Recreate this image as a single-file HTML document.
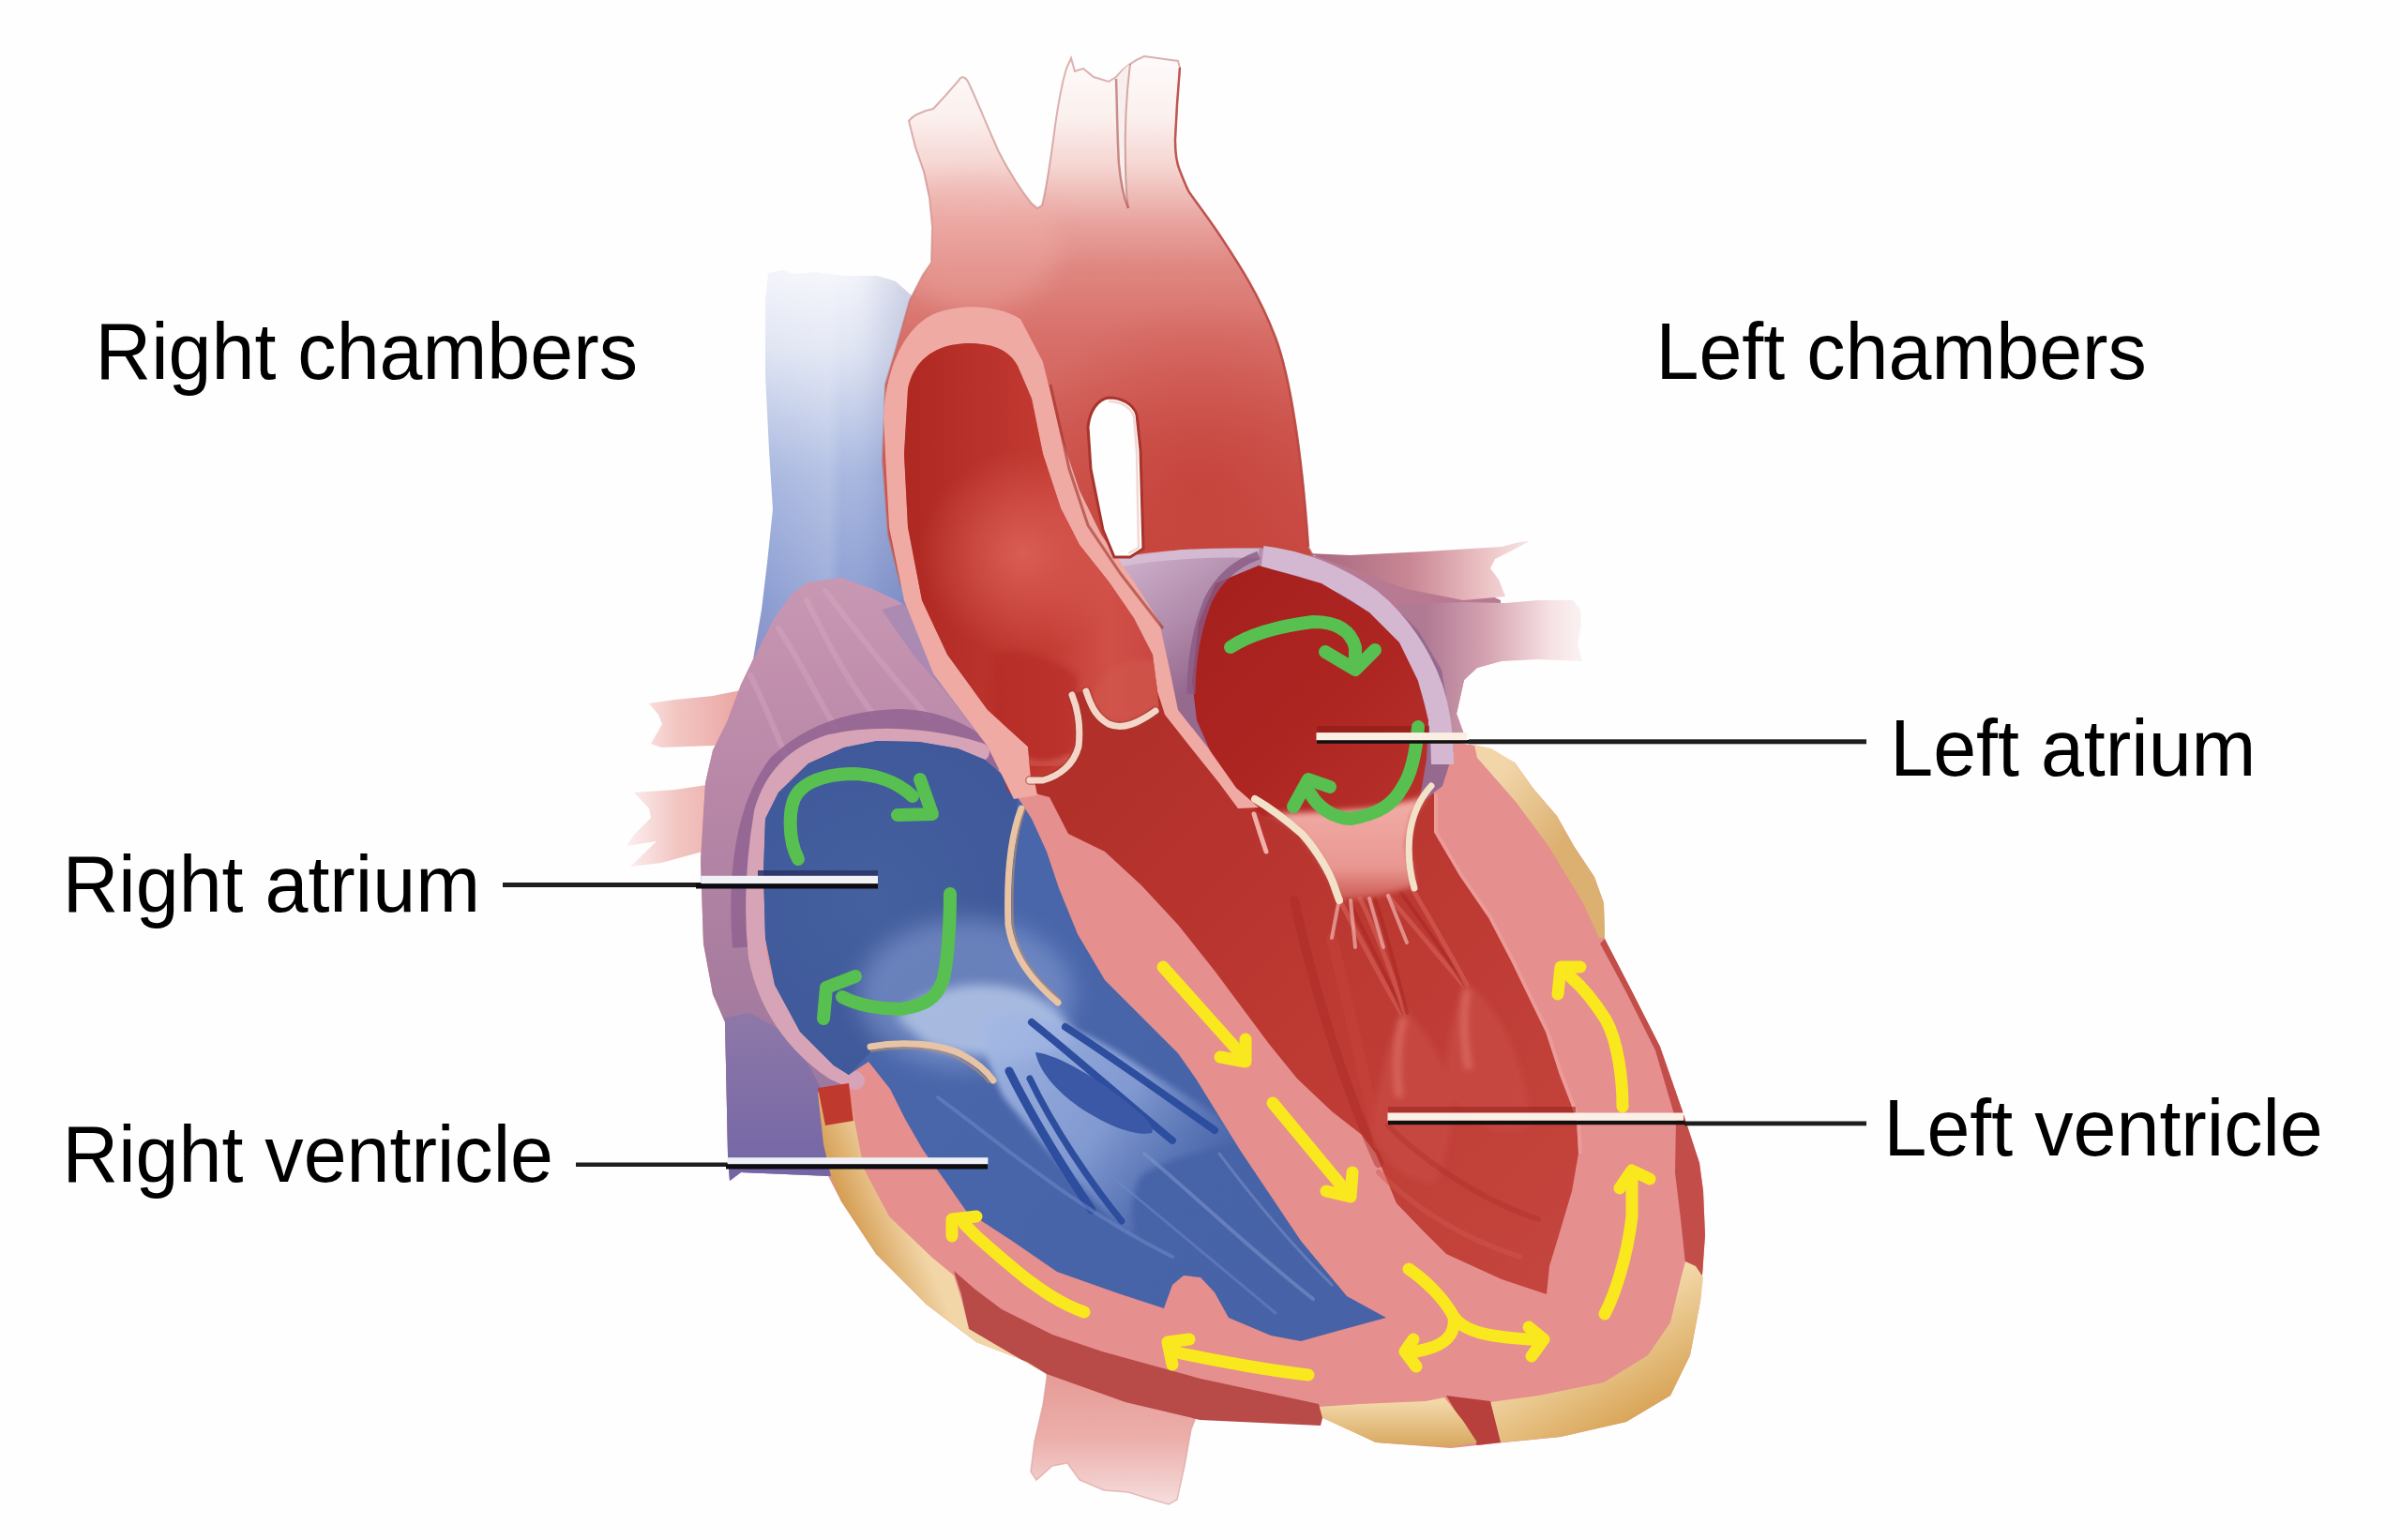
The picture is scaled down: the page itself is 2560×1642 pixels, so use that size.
<!DOCTYPE html>
<html><head><meta charset="utf-8"><title>Heart chambers</title>
<style>
html,body{margin:0;padding:0;background:#fefefe;}
svg{display:block;}
text{font-family:"Liberation Sans",sans-serif;font-size:85px;fill:#000;}
</style></head>
<body>
<svg width="2560" height="1642" viewBox="0 0 2560 1642">
<defs>
<linearGradient id="gSVC" x1="0" y1="290" x2="0" y2="720" gradientUnits="userSpaceOnUse">
<stop offset="0" stop-color="#f4f5fb"/><stop offset="0.2" stop-color="#dfe4f3"/><stop offset="0.5" stop-color="#a9b8e0"/><stop offset="0.8" stop-color="#8e9fd3"/><stop offset="1" stop-color="#8a8fc4"/>
</linearGradient>
<linearGradient id="gSVCh" x1="816" y1="0" x2="965" y2="0" gradientUnits="userSpaceOnUse">
<stop offset="0" stop-color="#ffffff" stop-opacity="0"/><stop offset="0.45" stop-color="#ffffff" stop-opacity="0.15"/><stop offset="0.55" stop-color="#ffffff" stop-opacity="0"/><stop offset="0.8" stop-color="#3a4a90" stop-opacity="0.08"/><stop offset="1" stop-color="#3a4a90" stop-opacity="0.18"/>
</linearGradient>
<linearGradient id="gArch" x1="0" y1="60" x2="0" y2="600" gradientUnits="userSpaceOnUse">
<stop offset="0" stop-color="#fefbfa"/><stop offset="0.12" stop-color="#fbf0ee"/><stop offset="0.22" stop-color="#f5d4d0"/><stop offset="0.33" stop-color="#e8a29d"/><stop offset="0.42" stop-color="#df8680"/><stop offset="0.55" stop-color="#d8706a"/><stop offset="0.75" stop-color="#d05c55"/><stop offset="1" stop-color="#c94c44"/>
</linearGradient>
<radialGradient id="gArchShade" cx="1280" cy="520" r="200" gradientUnits="userSpaceOnUse">
<stop offset="0" stop-color="#c0362e" stop-opacity="0.55"/><stop offset="1" stop-color="#c0362e" stop-opacity="0"/>
</radialGradient>
<linearGradient id="gDesc" x1="0" y1="1460" x2="0" y2="1605" gradientUnits="userSpaceOnUse">
<stop offset="0" stop-color="#e69a96"/><stop offset="0.5" stop-color="#ecaeaa"/><stop offset="0.85" stop-color="#f2cfcd"/><stop offset="1" stop-color="#f6e0e0"/>
</linearGradient>
<linearGradient id="gPV1" x1="1400" y1="0" x2="1631" y2="0" gradientUnits="userSpaceOnUse">
<stop offset="0" stop-color="#a8687f"/><stop offset="0.45" stop-color="#c98795"/><stop offset="0.8" stop-color="#edc4c6"/><stop offset="1" stop-color="#f6e6e6"/>
</linearGradient>
<linearGradient id="gPV2" x1="1520" y1="0" x2="1687" y2="0" gradientUnits="userSpaceOnUse">
<stop offset="0" stop-color="#b07a94"/><stop offset="0.4" stop-color="#d6a4b2"/><stop offset="0.8" stop-color="#f6e2e4"/><stop offset="1" stop-color="#fbf2f2"/>
</linearGradient>
<linearGradient id="gPVL" x1="800" y1="0" x2="670" y2="0" gradientUnits="userSpaceOnUse">
<stop offset="0" stop-color="#e9a19f"/><stop offset="0.6" stop-color="#f2c6c2"/><stop offset="1" stop-color="#fbeeee"/>
</linearGradient>
<linearGradient id="gRAw" x1="0" y1="620" x2="0" y2="1250" gradientUnits="userSpaceOnUse">
<stop offset="0" stop-color="#c897b2"/><stop offset="0.3" stop-color="#bb89a9"/><stop offset="0.65" stop-color="#a97d9f"/><stop offset="1" stop-color="#9477a2"/>
</linearGradient>
<linearGradient id="gIVC" x1="0" y1="1080" x2="0" y2="1250" gradientUnits="userSpaceOnUse">
<stop offset="0" stop-color="#8e78a8"/><stop offset="1" stop-color="#7466a6"/>
</linearGradient>
<radialGradient id="gRA" cx="930" cy="960" r="200" gradientUnits="userSpaceOnUse">
<stop offset="0" stop-color="#45609f"/><stop offset="1" stop-color="#3e5899"/>
</radialGradient>
<radialGradient id="gFan" cx="1010" cy="1100" r="130" gradientUnits="userSpaceOnUse">
<stop offset="0" stop-color="#c4d2ee" stop-opacity="0.95"/><stop offset="0.5" stop-color="#9fb3e0" stop-opacity="0.7"/><stop offset="1" stop-color="#7f97d0" stop-opacity="0"/>
</radialGradient>
<linearGradient id="gRV" x1="1000" y1="1100" x2="1450" y2="1400" gradientUnits="userSpaceOnUse">
<stop offset="0" stop-color="#4966aa"/><stop offset="1" stop-color="#4762a6"/>
</linearGradient>
<linearGradient id="gLV" x1="1150" y1="850" x2="1650" y2="1350" gradientUnits="userSpaceOnUse">
<stop offset="0" stop-color="#b2302a"/><stop offset="0.5" stop-color="#bd3a33"/><stop offset="1" stop-color="#c4453d"/>
</linearGradient>
<linearGradient id="gAo" x1="960" y1="0" x2="1240" y2="0" gradientUnits="userSpaceOnUse">
<stop offset="0" stop-color="#ae2822"/><stop offset="0.55" stop-color="#c23a32"/><stop offset="0.8" stop-color="#d05048"/><stop offset="1" stop-color="#c84640"/>
</linearGradient>
<radialGradient id="gAoHi" cx="1090" cy="590" r="110" gradientUnits="userSpaceOnUse">
<stop offset="0" stop-color="#e26a60" stop-opacity="0.75"/><stop offset="1" stop-color="#e26a60" stop-opacity="0"/>
</radialGradient>
<linearGradient id="gLA" x1="1280" y1="600" x2="1520" y2="850" gradientUnits="userSpaceOnUse">
<stop offset="0" stop-color="#a41f1d"/><stop offset="0.6" stop-color="#ae2622"/><stop offset="1" stop-color="#b8302a"/>
</linearGradient>
<linearGradient id="gLAw" x1="1200" y1="590" x2="1290" y2="720" gradientUnits="userSpaceOnUse">
<stop offset="0" stop-color="#cdb0cc"/><stop offset="0.6" stop-color="#b08aaa"/><stop offset="1" stop-color="#96698e"/>
</linearGradient>
<linearGradient id="gFat1" x1="1600" y1="820" x2="1680" y2="880" gradientUnits="userSpaceOnUse">
<stop offset="0" stop-color="#f2d6aa"/><stop offset="1" stop-color="#dcb070"/>
</linearGradient>
<linearGradient id="gFat2" x1="1700" y1="1400" x2="1760" y2="1500" gradientUnits="userSpaceOnUse">
<stop offset="0" stop-color="#f4dcae"/><stop offset="1" stop-color="#d9a65a"/>
</linearGradient>
<linearGradient id="gFat3" x1="0" y1="1495" x2="0" y2="1543" gradientUnits="userSpaceOnUse">
<stop offset="0" stop-color="#f2d8a8"/><stop offset="1" stop-color="#d7a75e"/>
</linearGradient>
<linearGradient id="gFat4" x1="905" y1="1310" x2="965" y2="1285" gradientUnits="userSpaceOnUse">
<stop offset="0" stop-color="#d39a4e"/><stop offset="1" stop-color="#f2d6a8"/>
</linearGradient>
<linearGradient id="gMit" x1="0" y1="855" x2="0" y2="975" gradientUnits="userSpaceOnUse">
<stop offset="0" stop-color="#f2aca6"/><stop offset="0.6" stop-color="#e89690"/><stop offset="1" stop-color="#d8706a" stop-opacity="0.3"/>
</linearGradient>
<clipPath id="clipArch"><path d="M969,129 C973,123 985,118 995,116 L1008,102 L1022,86 C1025,80 1030,81 1034,91 C1042,108 1055,140 1065,162 C1075,182 1090,205 1100,217 L1106,222 L1111,219 C1116,200 1120,170 1123,149 C1126,125 1132,90 1137,73 L1142,62 L1146,76 L1155,73 L1166,82 L1182,87 L1190,82 C1196,75 1205,66 1220,60 L1256,65 L1258,72 C1256,95 1254,125 1253,149 C1253,165 1255,175 1258,182 C1262,192 1265,200 1268,205 C1275,215 1290,235 1300,250 C1320,280 1343,315 1360,360 C1375,400 1388,480 1395,583 L1400,592 L1400,760 L1060,800 L1026,743 L987,677 L960,623 L947,570 L941,490 L944,410 L955,373 L970,320 L984,293 L993,280 L994,242 L991,211 L985,183 L976,157 Z"/></clipPath>
<filter id="b3" x="-20%" y="-20%" width="140%" height="140%"><feGaussianBlur stdDeviation="3"/></filter>
<filter id="b6" x="-30%" y="-30%" width="160%" height="160%"><feGaussianBlur stdDeviation="6"/></filter>
<filter id="b12" x="-50%" y="-50%" width="200%" height="200%"><feGaussianBlur stdDeviation="12"/></filter>
<linearGradient id="gChord" x1="1060" y1="1090" x2="1290" y2="1270" gradientUnits="userSpaceOnUse">
<stop offset="0" stop-color="#a4b8e4" stop-opacity="0.95"/><stop offset="0.55" stop-color="#8ea6da" stop-opacity="0.8"/><stop offset="1" stop-color="#7890cc" stop-opacity="0"/>
</linearGradient>
</defs>

<rect width="2560" height="1642" fill="#fefefe"/>
<!-- SVC -->
<path d="M819,291 L835,288 L845,292 L870,290 L900,294 L935,294 L955,300 L964,308 L975,318 L1000,330 L1000,720 L803,720 L803,703 L812,650 L818,600 L824,543 L820,480 L816,400 L816,320 Z" fill="url(#gSVC)"/>
<path d="M819,291 L835,288 L845,292 L870,290 L900,294 L935,294 L955,300 L964,308 L975,318 L1000,330 L1000,720 L803,720 L803,703 L812,650 L818,600 L824,543 L820,480 L816,400 L816,320 Z" fill="url(#gSVCh)"/>
<!-- descending aorta bottom -->
<path d="M1116,1440 L1280,1480 L1274,1514 L1270,1524 L1263,1563 L1255,1599 L1246,1604 L1222,1597 L1203,1591 L1177,1589 L1151,1578 L1138,1560 L1122,1563 L1105,1578 L1099,1569 L1103,1537 L1112,1498 L1116,1469 Z" fill="url(#gDesc)" stroke="#d89a98" stroke-width="1.5" stroke-opacity="0.6"/>
<!-- aortic arch -->
<path id="arch" d="M969,129 C973,123 985,118 995,116 L1008,102 L1022,86 C1025,80 1030,81 1034,91 C1042,108 1055,140 1065,162 C1075,182 1090,205 1100,217 L1106,222 L1111,219 C1116,200 1120,170 1123,149 C1126,125 1132,90 1137,73 L1142,62 L1146,76 L1155,73 L1166,82 L1182,87 L1190,82 C1196,75 1205,66 1220,60 L1256,65 L1258,72 C1256,95 1254,125 1253,149 C1253,165 1255,175 1258,182 C1262,192 1265,200 1268,205 C1275,215 1290,235 1300,250 C1320,280 1343,315 1360,360 C1375,400 1388,480 1395,583 L1400,592 L1400,760 L1060,800 L1026,743 L987,677 L960,623 L947,570 L941,490 L944,410 L955,373 L970,320 L984,293 L993,280 L994,242 L991,211 L985,183 L976,157 Z" fill="url(#gArch)" stroke="#b86a66" stroke-width="2" stroke-opacity="0.5"/>
<g clip-path="url(#clipArch)"><rect x="1000" y="300" width="420" height="460" fill="url(#gArchShade)"/><ellipse cx="1040" cy="260" rx="90" ry="70" fill="#f2b2ac" opacity="0.35" filter="url(#b12)"/></g>
<path d="M1258,72 C1256,95 1254,125 1253,149 C1253,165 1255,175 1258,182 C1262,192 1265,200 1268,205 C1275,215 1290,235 1300,250 C1320,280 1343,315 1360,360 C1375,400 1388,480 1395,583" fill="none" stroke="#b8403a" stroke-width="2.5" opacity="0.8"/>
<path d="M1190,84 C1196,76 1200,72 1205,68 C1201,100 1199,140 1200,175 C1200,195 1201,210 1203,222 C1197,205 1193,180 1192,150 C1191,125 1191,100 1190,84 Z" fill="#f8eeee"/>
<path d="M1190,84 C1191,110 1191,140 1193,175 C1195,195 1198,210 1203,222" fill="none" stroke="#a85048" stroke-width="2.5" opacity="0.6"/>
<path d="M1205,68 C1201,100 1199,140 1200,175 C1200,195 1201,210 1203,222" fill="none" stroke="#b06058" stroke-width="2" opacity="0.5"/>
<!-- pulmonary veins right -->
<path d="M1395,592 L1460,600 L1540,612 L1600,640 L1602,704 L1575,712 L1561,725 L1553,761 L1561,783 L1545,792 L1537,741 L1520,690 L1480,640 L1420,610 Z" fill="#b77a92"/>
<path d="M1395,590 L1440,592 L1520,588 L1601,583 L1620,578 L1631,577 L1614,586 L1594,596 L1589,606 L1598,618 L1605,636 L1560,640 L1500,628 L1460,614 Z" fill="url(#gPV1)"/>
<path d="M1490,645 L1560,642 L1605,643 L1640,640 L1677,640 L1685,650 L1686,668 L1682,686 L1687,705 L1640,703 L1601,705 L1575,712 L1561,725 L1553,761 L1561,783 L1541,781 L1530,730 L1505,690 Z" fill="url(#gPV2)"/>
<!-- pulmonary veins left stubs -->
<path d="M800,734 L760,742 L720,746 L692,750 L702,762 L706,772 L694,793 L705,797 L760,795 L800,790 Z" fill="url(#gPVL)"/>
<path d="M760,836 L720,842 L676,845 L692,862 L694,872 L676,890 L668,902 L700,897 L672,924 L705,920 L760,905 Z" fill="url(#gPVL)"/>

<!-- heart body pink base -->
<path d="M803,703 L861,621 L950,680 L1040,760 L1240,690 L1300,600 L1344,585 L1420,610 L1480,640 L1520,690 L1537,741 L1545,790 L1579,796 L1615,813 L1635,841 L1660,870 L1678,902 L1700,935 L1710,963 L1711,1001 L1739,1055 L1770,1116 L1794,1185 L1812,1240 L1816,1270 L1818,1317 L1813,1387 L1802,1445 L1781,1488 L1734,1516 L1664,1532 L1594,1539 L1547,1544 L1467,1538 L1408,1510 L1280,1514 L1200,1495 L1116,1465 L1095,1452 L1041,1431 L988,1391 L934,1337 L897,1281 L883,1254 L790,1250 L778,1259 L776,1230 L773,1090 L760,1060 L750,1006 L747,918 L752,835 L760,800 L775,770 L790,730 Z" fill="#e58f8e"/>
<!-- RA outer wall -->
<path d="M803,703 L825,660 L845,632 L861,621 L897,616 L930,628 L956,640 L987,659 L1010,690 L1030,720 L1050,760 L1062,795 L1072,830 L1060,827 L1021,798 L935,789 L880,798 L840,820 L815,852 L806,900 L804,964 L812,1032 L838,1090 L868,1130 L905,1155 L905,1200 L886,1254 L790,1250 L778,1259 L776,1230 L773,1090 L760,1060 L750,1006 L747,918 L752,835 L760,800 L775,770 L790,730 Z" fill="url(#gRAw)"/>
<!-- RA appendage streaks -->
<g fill="none" stroke="#dcb6cc" stroke-width="6" opacity="0.28" stroke-linecap="round">
<path d="M860,640 C880,680 900,720 930,760"/>
<path d="M880,630 C910,670 950,720 990,765"/>
<path d="M830,670 C850,700 870,740 890,775"/>
<path d="M800,720 C820,760 830,790 840,810"/>
</g>
<!-- SVC/aorta junction bluish -->
<path d="M940,650 L975,640 L1000,690 L1030,730 L1050,770 L1040,780 L1010,740 L975,700 Z" fill="#9a86b4" opacity="0.6"/>
<!-- IVC -->
<path d="M773,1085 L800,1080 L835,1100 L862,1135 L880,1170 L886,1215 L886,1254 L790,1250 L778,1259 L776,1230 Z" fill="url(#gIVC)"/>
<!-- RA dark ring band -->
<path d="M792,1010 C786,930 796,860 830,815 C865,782 910,768 960,767 C1000,768 1040,785 1068,818" fill="none" stroke="#8e6090" stroke-width="22" opacity="0.8"/>
<!-- RA light rim -->
<path d="M1045,802 C995,786 935,782 885,793 C848,805 824,830 814,866 C804,925 803,975 808,1020 C818,1072 848,1114 890,1142 L912,1152" fill="none" stroke="#d6a4b6" stroke-width="20" stroke-linecap="round"/>
<!-- blue RA + RV -->
<path d="M816,873 L830,845 L862,814 L900,797 L935,790 L980,791 L1021,798 L1050,810 L1071,828 L1085,850 L1100,873 L1116,908 L1129,947 L1149,996 L1178,1045 L1217,1084 L1256,1123 L1275,1150 L1322,1226 L1387,1323 L1436,1382 L1478,1405 L1430,1418 L1387,1430 L1355,1424 L1310,1405 L1295,1378 L1280,1362 L1262,1360 L1250,1370 L1241,1395 L1192,1379 L1127,1356 L1079,1323 L1030,1291 L1007,1258 L984,1226 L965,1193 L949,1161 L926,1132 L905,1146 L889,1136 L853,1100 L826,1050 L816,1000 L814,930 Z" fill="url(#gRV)"/>
<path d="M816,873 L830,845 L862,814 L900,797 L935,790 L980,791 L1021,798 L1050,810 L1071,828 L1085,850 L1080,900 L1075,960 L1085,1010 L1110,1050 L1120,1080 L1060,1110 L990,1110 L930,1120 L905,1146 L889,1136 L853,1100 L826,1050 L816,1000 L814,930 Z" fill="url(#gRA)"/>
<!-- light fan at valve -->
<ellipse cx="1030" cy="1060" rx="115" ry="80" fill="#8aa0d6" opacity="0.55" filter="url(#b12)"/>
<path d="M955,1085 C990,1050 1050,1040 1100,1060 C1125,1072 1140,1090 1145,1110 L1110,1125 C1070,1128 1030,1126 990,1115 Z" fill="#bccdec" opacity="0.75" filter="url(#b6)"/>
<!-- chordae RV -->
<clipPath id="clipBlue"><path d="M816,873 L830,845 L862,814 L900,797 L935,790 L980,791 L1021,798 L1050,810 L1071,828 L1085,850 L1100,873 L1116,908 L1129,947 L1149,996 L1178,1045 L1217,1084 L1256,1123 L1275,1150 L1322,1226 L1387,1323 L1436,1382 L1478,1405 L1430,1418 L1387,1430 L1355,1424 L1310,1405 L1295,1378 L1280,1362 L1262,1360 L1250,1370 L1241,1395 L1192,1379 L1127,1356 L1079,1323 L1030,1291 L1007,1258 L984,1226 L965,1193 L949,1161 L926,1132 L905,1146 L889,1136 L853,1100 L826,1050 L816,1000 L814,930 Z"/></clipPath>
<g clip-path="url(#clipBlue)">
<path d="M1050,1085 C1100,1070 1160,1100 1220,1140 C1260,1165 1300,1190 1330,1215 C1290,1225 1240,1235 1215,1255 C1205,1280 1205,1300 1210,1320 C1170,1290 1120,1230 1070,1170 C1055,1140 1045,1110 1050,1085 Z" fill="url(#gChord)" filter="url(#b3)"/>
<g fill="none" stroke-linecap="round">
<path d="M1100,1090 C1150,1130 1200,1175 1250,1216" stroke="#2d4d9e" stroke-width="8"/>
<path d="M1136,1095 C1190,1130 1245,1170 1295,1205" stroke="#2d4d9e" stroke-width="8"/>
<path d="M1076,1142 C1100,1190 1130,1240 1164,1290" stroke="#2d4d9e" stroke-width="9"/>
<path d="M1098,1150 C1122,1200 1160,1258 1196,1302" stroke="#2d4d9e" stroke-width="7"/>
</g>
<path d="M1104,1122 C1130,1125 1170,1150 1205,1178 C1222,1192 1232,1202 1228,1208 C1210,1212 1180,1200 1150,1180 C1125,1162 1108,1142 1104,1122 Z" fill="#3a58a5"/>
<g fill="none" stroke-linecap="round">
<path d="M1000,1170 C1080,1230 1150,1290 1250,1340" stroke="#6f88c6" stroke-width="4" opacity="0.55"/>
<path d="M1220,1230 C1280,1280 1330,1330 1400,1385" stroke="#7f96cc" stroke-width="4" opacity="0.55"/>
<path d="M1180,1250 C1240,1300 1300,1350 1360,1400" stroke="#6f88c6" stroke-width="3" opacity="0.5"/>
<path d="M1300,1230 C1330,1270 1370,1320 1420,1370" stroke="#7f96cc" stroke-width="3" opacity="0.5"/>
</g>
</g>
<!-- tricuspid leaflets -->
<g fill="none" stroke="#e8c4a4" stroke-width="7" stroke-linecap="round">
<path d="M1089,862 C1078,890 1073,930 1075,986 C1080,1020 1100,1045 1128,1069"/>
<path d="M928,1116 C960,1110 1000,1112 1025,1124 C1040,1132 1052,1142 1059,1152"/>
</g>
<g fill="none" stroke="#b88a68" stroke-width="2" opacity="0.7">
<path d="M1093,862 C1083,890 1078,930 1080,986 C1085,1020 1105,1045 1131,1066"/>
<path d="M928,1121 C960,1115 1000,1117 1022,1129 C1037,1137 1048,1146 1055,1155"/>
</g>

<!-- LV dark red -->
<path d="M1075,845 L1055,780 L1100,750 L1141,735 L1160,722 L1240,718 L1262,745 L1290,790 L1320,830 L1342,861 L1400,870 L1460,862 L1520,845 L1529,846 L1529,887 L1556,933 L1587,978 L1611,1024 L1626,1055 L1648,1100 L1663,1146 L1675,1177 L1681,1195 L1683,1230 L1676,1270 L1660,1324 L1652,1350 L1649,1380 L1601,1364 L1542,1337 L1515,1310 L1489,1283 L1467,1230 L1452,1210 L1420,1185 L1383,1150 L1353,1113 L1324,1074 L1295,1035 L1256,986 L1217,944 L1178,908 L1139,889 L1119,850 L1100,845 Z" fill="url(#gLV)"/>
<!-- LV trabeculae / papillary -->
<g filter="url(#b3)">
<path d="M1494,1078 C1482,1110 1470,1150 1462,1200 C1470,1240 1500,1260 1530,1262 C1545,1230 1552,1190 1548,1160 C1535,1120 1515,1095 1500,1078 Z" fill="#c64840" opacity="0.9"/>
<path d="M1562,1048 C1550,1080 1540,1115 1542,1160 C1560,1200 1600,1215 1632,1200 C1630,1150 1610,1100 1585,1068 C1578,1060 1570,1052 1562,1048 Z" fill="#c64840" opacity="0.9"/>
<path d="M1496,1085 C1490,1110 1488,1140 1492,1170" fill="none" stroke="#e07068" stroke-width="8" opacity="0.7"/>
<path d="M1564,1055 C1560,1080 1560,1110 1566,1140" fill="none" stroke="#e07068" stroke-width="8" opacity="0.7"/>
</g>
<g fill="none" stroke-linecap="round">
<path d="M1424,952 C1445,990 1470,1040 1494,1080" stroke="#d25a52" stroke-width="5" opacity="0.75"/>
<path d="M1436,956 C1455,995 1478,1040 1496,1080" stroke="#a82822" stroke-width="4" opacity="0.6"/>
<path d="M1450,958 C1468,995 1485,1040 1498,1080" stroke="#d25a52" stroke-width="5" opacity="0.75"/>
<path d="M1466,958 C1478,995 1490,1040 1500,1080" stroke="#a82822" stroke-width="4" opacity="0.6"/>
<path d="M1480,955 C1505,985 1535,1020 1560,1050" stroke="#d25a52" stroke-width="5" opacity="0.75"/>
<path d="M1494,952 C1518,985 1542,1020 1562,1050" stroke="#a82822" stroke-width="4" opacity="0.6"/>
<path d="M1506,948 C1528,985 1548,1020 1564,1050" stroke="#d25a52" stroke-width="5" opacity="0.75"/>
<path d="M1380,960 C1400,1050 1430,1150 1470,1240" stroke="#a82a24" stroke-width="10" opacity="0.45"/>
<path d="M1420,1000 C1440,1080 1455,1150 1470,1220" stroke="#c8463e" stroke-width="12" opacity="0.4"/>
<path d="M1470,1250 C1510,1290 1560,1320 1620,1340" stroke="#d05850" stroke-width="6" opacity="0.45"/>
<path d="M1480,1200 C1520,1240 1580,1280 1640,1300" stroke="#a82a24" stroke-width="6" opacity="0.35"/>
</g>
<!-- LV free wall jagged inner edge highlight -->
<path d="M1531,846 L1531,887 L1558,933 L1589,978 L1613,1024 L1628,1055 L1650,1100 L1665,1146 L1677,1177 L1683,1195 L1685,1230" fill="none" stroke="#f0a4a0" stroke-width="4" opacity="0.6"/>
<!-- LA wall region -->
<path d="M1186,596 L1260,586 L1344,584 L1409,600 L1471,631 L1512,672 L1537,714 L1546,768 L1550,800 L1538,838 L1520,852 L1342,861 L1305,830 L1273,789 L1232,726 L1205,660 Z" fill="url(#gLAw)"/>
<path d="M1346,594 C1380,598 1420,610 1462,640 C1492,665 1515,700 1527,735 C1535,760 1538,790 1538,815" fill="none" stroke="#d4b8d2" stroke-width="24"/>
<path d="M1190,600 C1230,592 1290,588 1342,590" fill="none" stroke="#d8c0d6" stroke-width="10" opacity="0.8"/>
<!-- LA dark red -->
<path d="M1342,603 L1409,622 L1460,653 L1492,685 L1512,726 L1523,768 L1521,809 L1514,851 L1500,872 L1450,880 L1400,878 L1346,870 L1325,851 L1294,809 L1276,768 L1271,726 L1278,664 L1296,622 Z" fill="url(#gLA)"/>
<path d="M1342,592 C1320,600 1300,615 1288,640 C1276,670 1270,705 1270,740" fill="none" stroke="#8a5a84" stroke-width="9" opacity="0.8"/>
<!-- mitral opening -->
<path d="M1350,868 L1400,866 L1460,862 L1512,852 L1524,842 L1506,870 L1500,900 L1508,945 L1470,955 L1428,960 L1420,938 L1406,914 L1388,889 L1363,870 Z" fill="url(#gMit)" filter="url(#b3)"/>
<g fill="none" stroke-linecap="round">
<path d="M1428,958 L1420,1000 M1440,960 L1445,1010 M1460,958 L1475,1010 M1480,955 L1500,1005" stroke="#f0b4b0" stroke-width="4" opacity="0.7"/>
</g>
<!-- mitral leaflets -->
<g fill="none" stroke-linecap="round">
<path d="M1338,852 C1352,860 1372,875 1388,889 C1400,902 1413,922 1420,938 C1424,948 1426,955 1428,960" stroke="#f3e2ca" stroke-width="8"/>
<path d="M1526,838 C1515,850 1506,868 1503,890 C1501,910 1503,930 1508,947" stroke="#f3e2ca" stroke-width="7"/>
<path d="M1337,868 L1344,890 L1350,908" stroke="#f0b0aa" stroke-width="5"/>
</g>

<!-- aorta rim -->
<path fill-rule="evenodd" fill="#efaaa4" d="M1081,852 L1053,796 L995,718 L964,640 L948,562 L942,445 C944,400 960,352 995,335 C1020,324 1062,324 1088,340 L1112,386 L1131,464 L1151,523 L1174,570 L1209,620 L1236,663 L1248,718 L1256,757 L1287,796 L1318,840 L1342,861 L1320,862 L1106,848 Z M1320,862 L1300,835 L1268,795 L1242,762 L1234,737 L1229,698 L1209,659 L1182,620 L1151,581 L1131,542 L1112,484 L1100,425 L1085,390 C1075,372 1058,366 1030,366 C995,368 974,385 968,415 L964,484 L968,562 L983,640 L1010,698 L1053,757 L1096,796 L1106,848 Z"/>
<!-- aorta interior -->
<path d="M1236,759 L1213,775 L1189,777 L1168,761 L1157,737 L1149,738 L1141,743 L1152,767 L1152,793 L1141,812 L1120,825 L1099,831 L1096,796 L1053,757 L1010,698 L983,640 L968,562 L964,484 L968,415 C974,385 995,368 1030,366 C1058,366 1075,372 1085,390 L1100,425 L1112,484 L1131,542 L1151,581 L1182,620 L1209,659 L1229,698 L1234,737 Z" fill="url(#gAo)"/>
<path d="M1236,759 L1213,775 L1189,777 L1168,761 L1157,737 L1149,738 L1141,743 L1152,767 L1152,793 L1141,812 L1120,825 L1099,831 L1096,796 L1053,757 L1010,698 L983,640 L968,562 L964,484 L968,415 C974,385 995,368 1030,366 C1058,366 1075,372 1085,390 L1100,425 L1112,484 L1131,542 L1151,581 L1182,620 L1209,659 L1229,698 L1234,737 Z" fill="url(#gAoHi)"/>
<!-- sinus lobes -->
<clipPath id="clipAoI"><path d="M1236,759 L1213,775 L1189,777 L1168,761 L1157,737 L1149,738 L1141,743 L1152,767 L1152,793 L1141,812 L1120,825 L1099,831 L1096,796 L1053,757 L1010,698 L983,640 L968,562 L964,484 L968,415 C974,385 995,368 1030,366 C1058,366 1075,372 1085,390 L1100,425 L1112,484 L1131,542 L1151,581 L1182,620 L1209,659 L1229,698 L1234,737 Z"/></clipPath>
<g clip-path="url(#clipAoI)">
<path d="M1060,700 C1080,690 1120,700 1148,720 L1150,790 C1140,815 1110,822 1085,818 C1065,800 1050,760 1060,700 Z" fill="#b42c26" opacity="0.6" filter="url(#b3)"/>
<path d="M1080,805 C1100,818 1125,818 1142,806" fill="none" stroke="#d86a60" stroke-width="6" opacity="0.7" filter="url(#b3)"/>
<path d="M1165,745 C1172,712 1205,698 1236,705 L1240,752 C1218,768 1192,772 1175,764 Z" fill="#d25a50" opacity="0.55" filter="url(#b3)"/>
</g>
<!-- pulmonary trunk wall line -->
<path d="M1120,410 L1140,500 L1160,560 L1195,612 L1240,670" fill="none" stroke="#a0302a" stroke-width="3" opacity="0.6"/>
<!-- aortic valve cusps -->
<g fill="none" stroke-linecap="round">
<path d="M1143,741 C1150,758 1152,778 1150,796 C1145,815 1130,827 1112,832 L1098,832" stroke="#9a3a30" stroke-width="10" opacity="0.5"/>
<path d="M1158,737 C1163,752 1168,764 1182,772 C1198,779 1215,770 1232,758" stroke="#9a3a30" stroke-width="10" opacity="0.5"/>
<path d="M1143,741 C1150,758 1152,778 1150,796 C1145,815 1130,827 1112,832 L1098,832" stroke="#f4d6c8" stroke-width="7"/>
<path d="M1158,737 C1163,752 1168,764 1182,772 C1198,779 1215,770 1232,758" stroke="#f4d6c8" stroke-width="7"/>
</g>
<!-- window -->
<path d="M1182,424 C1195,424 1208,430 1212,442 L1216,480 L1219,585 L1205,594 L1188,594 L1176,565 L1163,500 L1160,455 C1162,438 1170,426 1182,424 Z" fill="#fefefe" stroke="#a8342c" stroke-width="3"/>
<path d="M1182,428 C1194,428 1205,433 1209,444 L1212,482 L1214,584 L1203,590" fill="none" stroke="#f2d8d4" stroke-width="2.5"/>

<!-- fat right upper -->
<path d="M1572,794 L1590,798 L1615,813 L1635,841 L1660,870 L1678,902 L1700,935 L1710,963 L1711,1000 L1705,1000 L1688,963 L1651,902 L1617,856 L1590,825 L1575,808 Z" fill="url(#gFat1)"/>
<!-- right outer red band -->
<path d="M1711,1001 L1739,1055 L1770,1116 L1794,1185 L1812,1240 L1816,1270 L1818,1317 L1815,1360 L1797,1347 L1792,1300 L1786,1250 L1787,1195 L1765,1120 L1734,1058 L1706,1006 Z" fill="#c24d49"/>
<!-- fat bottom right -->
<path d="M1797,1345 L1808,1350 L1816,1362 L1813,1387 L1802,1445 L1781,1488 L1734,1516 L1664,1532 L1600,1538 L1589,1495 L1640,1488 L1710,1474 L1757,1445 L1781,1410 L1792,1364 Z" fill="url(#gFat2)"/>
<path d="M1542,1488 L1589,1494 L1600,1538 L1575,1541 L1558,1515 Z" fill="#b8403c"/>
<path d="M1406,1500 L1450,1497 L1520,1494 L1540,1490 L1560,1515 L1575,1538 L1548,1543 L1467,1538 L1410,1512 Z" fill="url(#gFat3)"/>
<!-- red band bottom -->
<path d="M1017,1355 L1040,1375 L1068,1396 L1122,1423 L1175,1441 L1280,1470 L1406,1497 L1410,1512 L1408,1520 L1280,1514 L1200,1495 L1116,1465 L1079,1444 L1033,1417 L1025,1380 Z" fill="#b84a47"/>
<!-- fat left bottom -->
<path d="M872,1165 L905,1160 L912,1200 L921,1246 L948,1297 L993,1340 L1017,1360 L1025,1385 L1033,1417 L1079,1444 L1116,1465 L1095,1452 L1041,1431 L988,1391 L934,1337 L897,1281 L886,1254 L878,1220 Z" fill="url(#gFat4)"/>
<path d="M872,1160 L905,1155 L910,1195 L880,1200 Z" fill="#c0392e"/>

<!-- label shadows -->
<rect x="1404" y="774" width="120" height="7" fill="#8a1a18" opacity="0.6"/>
<rect x="1480" y="1180" width="200" height="6.5" fill="#9a2622" opacity="0.6"/>
<rect x="808" y="928" width="128" height="6" fill="#2a3266" opacity="0.85"/>
<!-- green arrows -->
<g fill="none" stroke="#58c050" stroke-width="14" stroke-linecap="round" stroke-linejoin="round">
<path d="M851,916 C840,895 840,860 850,846 C862,830 885,826 906,825 C930,825 955,832 973,849"/>
<path d="M981,831 L994,868 L957,869"/>
<path d="M1013,953 C1013,990 1010,1030 1005,1046 C998,1066 985,1072 960,1076 C940,1076 915,1072 898,1063"/>
<path d="M912,1041 L881,1053 L878,1086"/>
<path d="M1312,690 C1330,678 1360,668 1400,663 C1425,663 1440,672 1445,690 L1445,711"/>
<path d="M1413,695 L1445,714 L1466,693"/>
<path d="M1512,775 C1510,800 1505,825 1495,840 C1485,858 1470,868 1440,873 C1420,872 1405,860 1397,846"/>
<path d="M1379,860 L1395,831 L1418,839"/>
</g>

<!-- yellow arrows -->
<g fill="none" stroke="#f9e81e" stroke-width="13" stroke-linecap="round" stroke-linejoin="round">
<path d="M1240,1031 L1325,1126"/>
<path d="M1301,1127 L1328,1132 L1328,1108"/>
<path d="M1357,1176 L1435,1270"/>
<path d="M1414,1270 L1440,1276 L1442,1250"/>
<path d="M1502,1353 C1520,1365 1540,1385 1550,1404 C1552,1420 1545,1435 1510,1441"/>
<path d="M1507,1428 L1498,1441 L1510,1457"/>
<path d="M1550,1404 C1560,1418 1580,1425 1630,1428 L1643,1428"/>
<path d="M1630,1415 L1646,1428 L1633,1446"/>
<path d="M1711,1401 C1722,1380 1735,1340 1740,1297 L1740,1257"/>
<path d="M1727,1267 L1740,1248 L1759,1257"/>
<path d="M1730,1180 C1730,1150 1725,1110 1712,1087 C1700,1068 1690,1055 1675,1042"/>
<path d="M1661,1060 L1664,1031 L1685,1031"/>
<path d="M1156,1399 C1130,1390 1110,1375 1095,1364 C1080,1352 1060,1335 1041,1318 L1028,1305"/>
<path d="M1015,1318 L1015,1300 L1041,1297"/>
<path d="M1395,1466 C1360,1462 1300,1452 1255,1442"/>
<path d="M1268,1428 L1245,1431 L1250,1455"/>
</g>

<!-- label lines -->
<rect x="536" y="941" width="212" height="5" fill="#1e1e1e"/>
<rect x="742" y="942" width="194" height="5.5" fill="#0c0c10"/>
<rect x="747.5" y="933.8" width="188.5" height="8.3" fill="#f0f1f6"/>

<rect x="614" y="1239.5" width="164" height="4.5" fill="#1e1e1e"/>
<rect x="774" y="1241" width="279" height="5.5" fill="#0c0c10"/>
<rect x="775.7" y="1234.2" width="277.7" height="7" fill="#eef0f6"/>

<rect x="1404" y="789" width="170" height="3.8" fill="#111"/>
<rect x="1566" y="788.3" width="424" height="5" fill="#1e1e1e"/>
<rect x="1403.5" y="781.1" width="160.8" height="8.1" fill="#fbefe4"/>

<rect x="1480" y="1194.7" width="316" height="4.5" fill="#111"/>
<rect x="1796" y="1195.5" width="194" height="4.8" fill="#1e1e1e"/>
<rect x="1479.5" y="1186.5" width="315.5" height="8.2" fill="#fbf0e6"/>

<!-- text labels -->
<text transform="translate(101.6,404.4) scale(0.972,1)">Right chambers</text>
<text transform="translate(1765.5,404.4) scale(0.972,1)">Left chambers</text>
<text transform="translate(66.7,972.1) scale(0.972,1)">Right atrium</text>
<text transform="translate(66.6,1260) scale(0.972,1)">Right ventricle</text>
<text transform="translate(2015.2,827.4) scale(0.972,1)">Left atrium</text>
<text transform="translate(2008.5,1232.3) scale(0.972,1)">Left ventricle</text>

</svg>
</body></html>
